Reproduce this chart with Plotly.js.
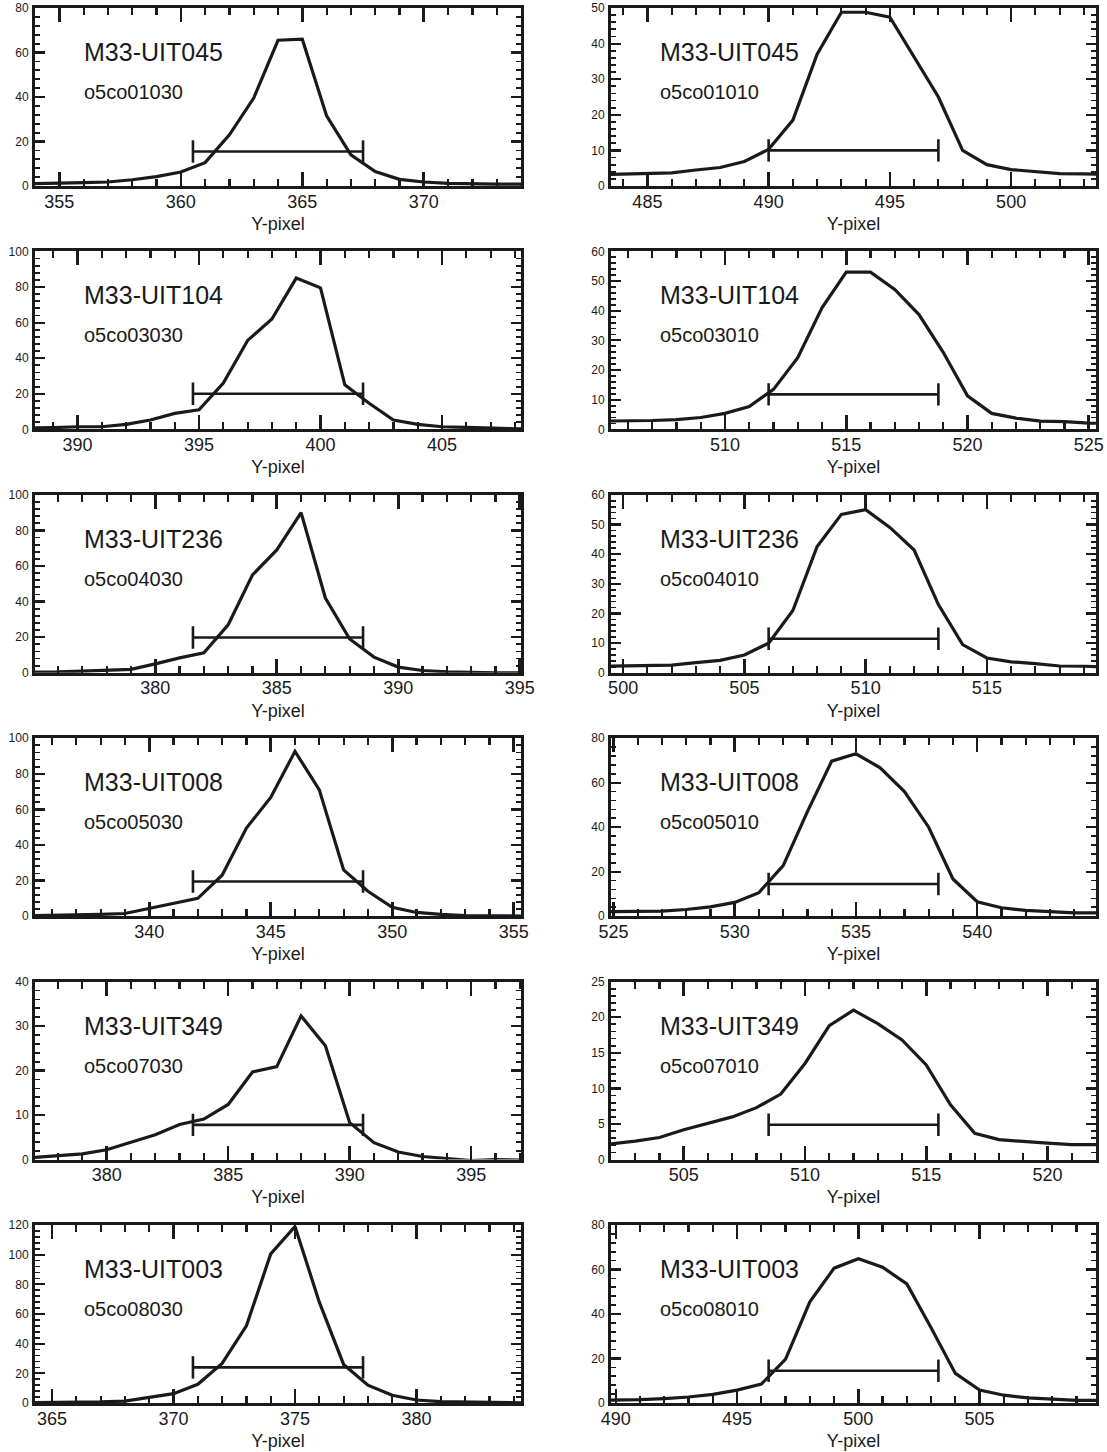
<!DOCTYPE html>
<html>
<head>
<meta charset="utf-8">
<script src="https://cdn.plot.ly/plotly-3.0.1.min.js"></script>
<style>html,body{margin:0;padding:0;background:#fff;}#chart{width:1107px;height:1452px;}</style>
</head>
<body>
<div id="chart"></div>
<script>
// ---- Data ----
const starNames = ["M33-UIT045","M33-UIT045","M33-UIT104","M33-UIT104","M33-UIT236","M33-UIT236",
                   "M33-UIT008","M33-UIT008","M33-UIT349","M33-UIT349","M33-UIT003","M33-UIT003"];
const obsIds = ["o5co01030","o5co01010","o5co03030","o5co03010","o5co04030","o5co04010",
                "o5co05030","o5co05010","o5co07030","o5co07010","o5co08030","o5co08010"];
// first Y-pixel of each profile (profiles sampled every pixel)
const startPixel = [353, 483, 387, 504, 374, 499, 335, 524, 377, 501, 364, 489];
// profile values
const prof1  = [0.9,1.0,1.2,1.5,1.8,2.8,4.2,6.3,10.5,23,39.5,65.5,66,31.5,14,6.5,3,1.8,1.2,0.9,0.8,0.8,0.8];
const prof2  = [3.2,3.3,3.5,3.7,4.5,5.2,6.9,10.3,18.5,37,48.8,48.8,47.4,36.4,25,10,6,4.6,4,3.5,3.4,3.3];
const prof3  = [0.5,0.6,1,1.5,1.5,2.8,5.3,9,11,26,50,62,85,79.5,25,14.7,5.3,2.8,1.5,1.1,0.6,0.2,0];
const prof4  = [2.7,2.8,2.8,3,3.3,4,5.4,7.7,13.5,24.2,41,53,53,47.2,38.7,26,11.3,5.4,3.8,2.8,2.6,2.1,2];
const prof5  = [0.4,0.4,0.5,0.9,1.3,1.9,5,8.4,11.2,27,55,69,90,42,19,8.8,3.2,1.3,0.6,0.2,0,0,0];
const prof6  = [2.2,2.3,2.4,2.6,3.4,4.2,6,10,21,42.6,53.4,55,49,41.4,23,9.5,5,3.7,3.1,2.3,2.2,2];
const prof7  = [0.3,0.4,0.8,1,1.5,4.4,7.2,10,23,49.5,66.7,92.6,71,26,14,5,2.1,1,0.4,0.2,0,0];
const prof8  = [2,2,2,2.3,3,4.2,6.2,10.6,22.7,47,69.7,73,66.7,56,40,16.7,6.5,3.8,2.6,2,1.5,1.5];
const prof9  = [0.5,0.9,1.3,2.2,3.9,5.6,7.9,9.1,12.4,19.7,20.9,32.3,25.6,8.3,3.8,1.7,0.7,0.3,-0.2,0,-0.2,-0.2];
const prof10 = [2.1,2.2,2.6,3.1,4.2,5.1,6.0,7.3,9.2,13.5,18.8,21,19.1,16.8,13.3,7.7,3.7,2.8,2.5,2.3,2.1,2.1,2.1];
const prof11 = [0.2,0.2,0.5,0.7,1.3,3.6,6.3,12.6,26.7,52,100.5,119,68,26,12,5.2,2,0.9,0.5,0.3,0,0];
const prof12 = [1.2,1.2,1.5,2,2.7,3.9,5.8,8.5,19.7,45.5,60.6,64.8,61,53.5,33.8,13.3,5.8,3.5,2.3,1.7,1.2,1.2];
const profiles = [prof1,prof2,prof3,prof4,prof5,prof6,prof7,prof8,prof9,prof10,prof11,prof12];
// profile centre (Y-pixel), extraction bar ends and bar level
const centers = [364, 493.5, 398.25, 515.3, 385.05, 509.5, 345.3, 534.9, 387.05, 512, 374.3, 499.8];
const barLo   = [360.5, 490, 394.75, 511.8, 381.55, 506, 341.8, 531.4, 383.55, 508.5, 370.8, 496.3];
const barHi   = [367.5, 497, 401.75, 518.8, 388.55, 513, 348.8, 538.4, 390.55, 515.5, 377.8, 503.3];
const barLevel = [15.5, 10, 20, 11.8, 19.8, 11.5, 19.5, 14.5, 7.8, 4.9, 24, 14.5];
// y-axis ranges and major tick steps
const yMax  = [80, 50, 100, 60, 100, 60, 100, 80, 40, 25, 120, 80];
const yStep = [20, 10, 20, 10, 20, 10, 20, 20, 10, 5, 20, 20];

// ---- Build figure ----
const W = 1107, H = 1452;
const colX = [[35, 521], [611, 1096]];
const rowTop0 = 8, rowPitch = 243.4, rowH = 178;
const FONT = "Liberation Sans, Arial, Helvetica, sans-serif";

const traces = [];
const layout = {
  width: W, height: H,
  margin: {l: 0, r: 0, t: 0, b: 0},
  paper_bgcolor: "#ffffff", plot_bgcolor: "#ffffff",
  showlegend: false,
  font: {family: FONT, color: "#000"},
  annotations: []
};

for (let i = 0; i < 12; i++) {
  const n = i + 1;
  const col = i % 2, row = Math.floor(i / 2);
  const xs = profiles[i].map((_, k) => startPixel[i] + k);
  const xa = n === 1 ? "x" : "x" + n;
  const ya = n === 1 ? "y" : "y" + n;
  traces.push({
    x: xs, y: profiles[i], xaxis: xa, yaxis: ya, type: "scatter", mode: "lines",
    line: {color: "#1a1a1a", width: 3.2}, hoverinfo: "skip"
  });
  traces.push({
    x: [barLo[i], barHi[i]], y: [barLevel[i], barLevel[i]], xaxis: xa, yaxis: ya,
    type: "scatter", mode: "lines+markers",
    line: {color: "#1a1a1a", width: 2.6},
    marker: {symbol: "line-ns-open", size: 16, line: {color: "#1a1a1a", width: 2.6}},
    hoverinfo: "skip"
  });
  const top = rowTop0 + row * rowPitch, bot = top + rowH;
  const xd = [colX[col][0] / W, colX[col][1] / W];
  const yd = [1 - bot / H, 1 - top / H];
  const xKey = n === 1 ? "xaxis" : "xaxis" + n;
  const yKey = n === 1 ? "yaxis" : "yaxis" + n;
  layout[xKey] = {
    domain: xd, anchor: ya, range: [centers[i] - 10, centers[i] + 10],
    showline: true, linewidth: 3, linecolor: "#1a1a1a", mirror: "ticks",
    ticks: "inside", ticklen: 14, tickwidth: 2.6, tickcolor: "#1a1a1a",
    tick0: 0, dtick: 5,
    minor: {ticks: "inside", ticklen: 7, tickwidth: 2.2, tickcolor: "#1a1a1a", dtick: 1, showgrid: false},
    showgrid: false, zeroline: false,
    tickfont: {size: 18, family: FONT, color: "#1a1a1a"},
    ticklabelstandoff: -3,
    ticklabeloverflow: "allow",
    title: {text: "Y-pixel", font: {size: 18, family: FONT, color: "#1a1a1a"}, standoff: 7},
    fixedrange: true
  };
  layout[yKey] = {
    domain: yd, anchor: xa, range: [0, yMax[i]],
    showline: true, linewidth: 3, linecolor: "#1a1a1a", mirror: "ticks",
    ticks: "inside", ticklen: 10, tickwidth: 2.2, tickcolor: "#1a1a1a",
    tick0: 0, dtick: yStep[i],
    minor: {ticks: "inside", ticklen: 5, tickwidth: 1.8, tickcolor: "#1a1a1a", dtick: yStep[i] / 5, showgrid: false},
    showgrid: false, zeroline: false,
    tickfont: {size: 12, family: FONT, color: "#1a1a1a"},
    ticklabelstandoff: 1,
    ticklabeloverflow: "allow",
    fixedrange: true
  };
  layout.annotations.push({
    text: starNames[i], xref: xa + " domain", yref: ya + " domain",
    x: 0.097, y: 0.753, xanchor: "left", yanchor: "middle", showarrow: false,
    font: {size: 25, family: FONT, color: "#1a1a1a"}
  });
  layout.annotations.push({
    text: obsIds[i], xref: xa + " domain", yref: ya + " domain",
    x: 0.097, y: 0.528, xanchor: "left", yanchor: "middle", showarrow: false,
    font: {size: 20, family: FONT, color: "#1a1a1a"}
  });
}

Plotly.newPlot("chart", traces, layout, {staticPlot: true, displayModeBar: false});
</script>
</body>
</html>
